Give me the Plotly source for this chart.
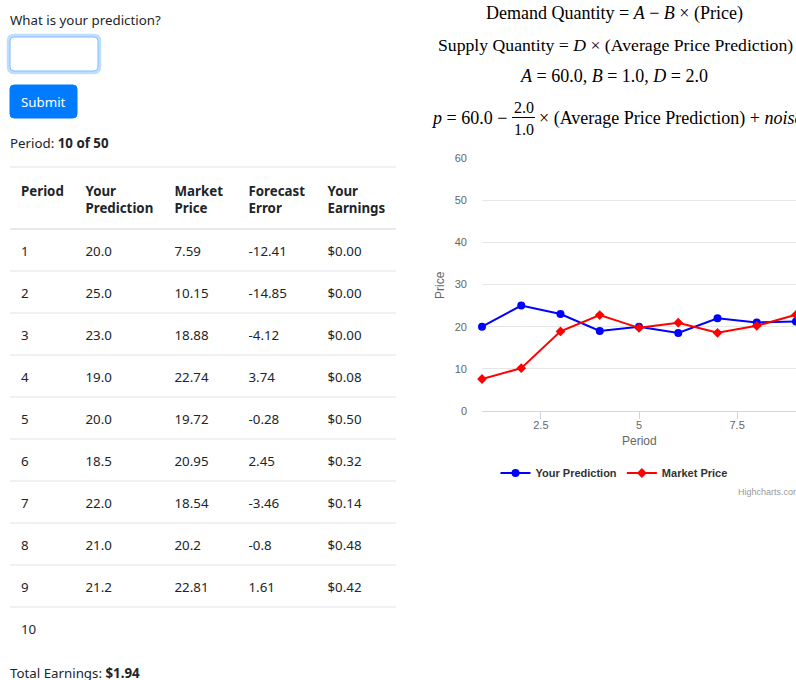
import plotly.graph_objects as go

W, H = 796, 680

# ---------------- data ----------------
periods = [1, 2, 3, 4, 5, 6, 7, 8, 9]
your_prediction = [20.0, 25.0, 23.0, 19.0, 20.0, 18.5, 22.0, 21.0, 21.2]
market_price = [7.59, 10.15, 18.88, 22.74, 19.72, 20.95, 18.54, 20.2, 22.81]
forecast_error = [-12.41, -14.85, -4.12, 3.74, -0.28, 2.45, -3.46, -0.8, 1.61]
earnings = ["$0.00", "$0.00", "$0.00", "$0.08", "$0.50", "$0.32", "$0.14", "$0.48", "$0.42"]
table_headers = ["Period", "Your<br>Prediction", "Market<br>Price", "Forecast<br>Error", "Your<br>Earnings"]
current_period = 10
total_periods = 50
total_earnings = "$1.94"
y_ticks = [0, 10, 20, 30, 40, 50, 60]
x_ticks = [2.5, 5, 7.5]
x_tick_labels = ["2.5", "5", "7.5"]
A, B, D = 60.0, 1.0, 2.0

# ---------------- helpers ----------------
def px(x):
    return x / W

def py(y):
    return 1 - y / H

def rrect(x0, y0, x1, y1, r):
    return (f"M {px(x0 + r)},{py(y0)} L {px(x1 - r)},{py(y0)} "
            f"Q {px(x1)},{py(y0)} {px(x1)},{py(y0 + r)} L {px(x1)},{py(y1 - r)} "
            f"Q {px(x1)},{py(y1)} {px(x1 - r)},{py(y1)} L {px(x0 + r)},{py(y1)} "
            f"Q {px(x0)},{py(y1)} {px(x0)},{py(y1 - r)} L {px(x0)},{py(y0 + r)} "
            f"Q {px(x0)},{py(y0)} {px(x0 + r)},{py(y0)} Z")

BODY_FONT = "Noto Sans"
TEXT = "#212529"
FS = 13.3

fig = go.Figure()

# ---------------- chart ----------------
fig.add_trace(go.Scatter(
    x=periods, y=your_prediction, name="Your Prediction", mode="lines+markers",
    line=dict(color="#0000ff", width=2),
    marker=dict(symbol="circle", size=8, color="#0000ff"),
    cliponaxis=False))
fig.add_trace(go.Scatter(
    x=periods, y=market_price, name="Market Price", mode="lines+markers",
    line=dict(color="#ff0000", width=2),
    marker=dict(symbol="diamond", size=7.5, color="#ff0000"),
    cliponaxis=False))

# ---------------- table ----------------
col_period = [str(p) for p in periods] + [str(current_period)]
col_pred = [f"{v:.1f}" for v in your_prediction] + [""]
col_price = [str(v) for v in market_price] + [""]
col_err = [str(v) for v in forecast_error] + [""]
col_earn = earnings + [""]

TBL_L, TBL_R = 10, 396
HEAD_TOP, HEAD_H, ROW_H = 167, 62, 42
n_rows = len(col_period)
col_widths = [64.5, 89, 74, 79, 79.5]
TBL_TOP, TBL_HEAD_H = 173.5, 64.5

fig.add_trace(go.Table(
    domain=dict(x=[px(TBL_L + 3), px(TBL_R + 3)],
                y=[py(TBL_TOP + TBL_HEAD_H + ROW_H * n_rows), py(TBL_TOP)]),
    columnwidth=col_widths,
    header=dict(values=[f"<b>{h}</b>" for h in table_headers],
                align="left", height=TBL_HEAD_H,
                font=dict(family=BODY_FONT, size=FS, color=TEXT),
                fill_color="rgba(0,0,0,0)", line_color="rgba(0,0,0,0)"),
    cells=dict(values=[col_period, col_pred, col_price, col_err, col_earn],
               align="left", height=ROW_H,
               font=dict(family=BODY_FONT, size=FS, color=TEXT),
               fill_color="rgba(0,0,0,0)", line_color="rgba(0,0,0,0)"),
))

shapes = []
# table rules
shapes.append(dict(type="line", xref="paper", yref="paper", x0=px(TBL_L), x1=px(TBL_R),
                   y0=py(HEAD_TOP), y1=py(HEAD_TOP), line=dict(color="#dee2e6", width=1)))
shapes.append(dict(type="line", xref="paper", yref="paper", x0=px(TBL_L), x1=px(TBL_R),
                   y0=py(HEAD_TOP + HEAD_H), y1=py(HEAD_TOP + HEAD_H), line=dict(color="#dee2e6", width=1.5)))
for i in range(1, n_rows):
    yy = HEAD_TOP + HEAD_H + ROW_H * i
    shapes.append(dict(type="line", xref="paper", yref="paper", x0=px(TBL_L), x1=px(TBL_R),
                       y0=py(yy), y1=py(yy), line=dict(color="#dee2e6", width=1)))

# input box with focus glow
shapes.append(dict(type="path", xref="paper", yref="paper", path=rrect(8.4, 35.4, 99.6, 72.6, 5.5),
                   line=dict(color="rgba(0,123,255,0.25)", width=3.2), fillcolor="rgba(0,0,0,0)"))
shapes.append(dict(type="path", xref="paper", yref="paper", path=rrect(10, 37, 98, 71, 4),
                   line=dict(color="#80bdff", width=1), fillcolor="#ffffff"))
# submit button
shapes.append(dict(type="path", xref="paper", yref="paper", path=rrect(10, 85, 77, 118, 4),
                   line=dict(color="#007bff", width=1), fillcolor="#007bff"))
# fraction bar
shapes.append(dict(type="line", xref="paper", yref="paper", x0=px(512), x1=px(535),
                   y0=py(117.5), y1=py(117.5), line=dict(color="#000000", width=1)))

annotations = []

def note(text, x, y, xanchor="left", size=FS, color=TEXT, family=BODY_FONT, yanchor="middle"):
    annotations.append(dict(text=text, x=px(x), y=py(y), xref="paper", yref="paper",
                            xanchor=xanchor, yanchor=yanchor, showarrow=False,
                            font=dict(family=family, size=size, color=color)))

note("What is your prediction?", 8, 20)
note("Submit", 43.5, 101.5, xanchor="center", color="#ffffff")
note(f"Period: <b>{current_period} of {total_periods}</b>", 8, 143)
note(f"Total Earnings: <b>{total_earnings}</b>", 8, 673)

MATH = "Liberation Serif"
MS = 18
note("Demand Quantity = <i>A</i> − <i>B</i> × (Price)", 614, 13, xanchor="center", family=MATH, size=MS, color="#000")
note("Supply Quantity = <i>D</i> × (Average Price Prediction)", 615, 45, xanchor="center", family=MATH, size=17.7, color="#000")
note(f"<i>A</i> = {A:.1f}, <i>B</i> = {B:.1f}, <i>D</i> = {D:.1f}", 614, 76, xanchor="center", family=MATH, size=MS, color="#000")
note(f"<i>p</i> = {A:.1f} −", 509, 118, xanchor="right", family=MATH, size=MS, color="#000")
note(f"{D:.1f}", 523.5, 107, xanchor="center", family=MATH, size=MS - 2, color="#000")
note(f"{B:.1f}", 523.5, 129, xanchor="center", family=MATH, size=MS - 2, color="#000")
note("× (Average Price Prediction) + <i>noise</i>", 537, 118, family=MATH, size=MS, color="#000")

# chart text
CH = "Liberation Sans"
note("Price", 440, 285, xanchor="center", size=12, color="#666666", family=CH)
annotations[-1]["textangle"] = -90
note("Period", 639, 441, xanchor="center", size=12, color="#666666", family=CH)
note("Highcharts.com", 736, 492, size=9, color="#999999", family=CH)

fig.update_layout(
    width=W, height=H, margin=dict(l=0, r=0, t=0, b=0, autoexpand=False),
    paper_bgcolor="#ffffff", plot_bgcolor="#ffffff",
    shapes=shapes, annotations=annotations,
    showlegend=True,
    legend=dict(orientation="h", x=px(614), xanchor="center", y=py(473), yanchor="middle",
                font=dict(family=CH, size=11, color="#333333", weight="bold"),
                itemwidth=30, bgcolor="rgba(0,0,0,0)"),
    xaxis=dict(domain=[px(482), 1.0], range=[1, 9], tickvals=x_ticks, ticktext=x_tick_labels,
               showgrid=False, zeroline=False, showline=True, linecolor="#ccd6eb", linewidth=1,
               ticks="outside", ticklen=7, tickcolor="#ccd6eb", ticklabelstandoff=-3,
               automargin=False,
               tickfont=dict(family=CH, size=11, color="#666666")),
    yaxis=dict(domain=[py(411), py(158)], range=[0, 60], tickvals=y_ticks,
               showgrid=True, gridcolor="#e6e6e6", gridwidth=1, zeroline=False, showline=False,
               ticklabelstandoff=14, automargin=False,
               tickfont=dict(family=CH, size=11, color="#666666")),
)

fig.write_html("out.html", config={"displayModeBar": False},
               post_script="document.documentElement.style.margin='0';document.body.style.margin='0';"
                           "document.body.style.padding='0';document.body.style.overflow='hidden';")
